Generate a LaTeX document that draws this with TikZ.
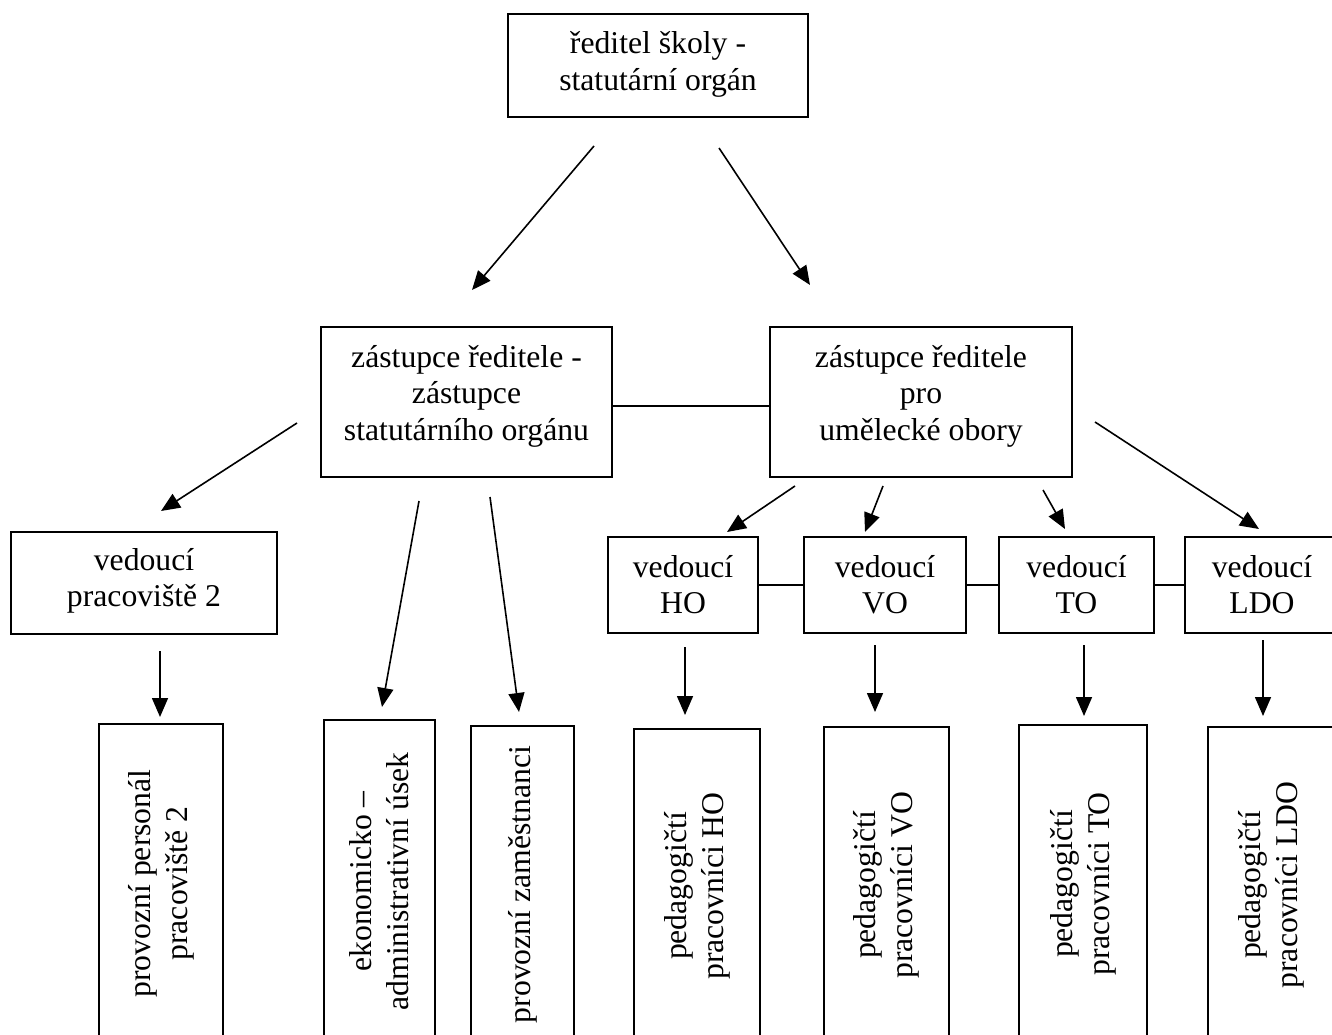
\documentclass[tikz,border=0pt]{standalone}
\usepackage{fontspec}
\setmainfont{Liberation Serif}
\usetikzlibrary{arrows.meta}
\newcommand\bt[4][40pt]{\parbox[c][#3][t]{#2}{\centering\rule{0pt}{#1}#4}}
\begin{document}
\begin{tikzpicture}[x=1pt,y=-1pt,
  box/.style={draw,line width=1.8pt,inner sep=0pt,font=\fontsize{31.7pt}{36.8pt}\selectfont},
  vbox/.style={box,rotate=90,align=center},
  arr/.style={line width=1.6pt,-{Triangle[length=19pt,width=16pt]}},
  link/.style={line width=1.6pt}]
\path[use as bounding box, clip] (0,0) rectangle (1332,1035);
\fill[white] (0,0) rectangle (1332,1035);

% horizontal boxes
\node[box] (top) at (658,65.5) {\bt{300pt}{103pt}{ředitel školy -\\statutární orgán}};
\node[box] (zr1) at (466.5,402) {\bt{291pt}{150pt}{zástupce ředitele -\\zástupce\\statutárního orgánu}};
\node[box] (zr2) at (921,402) {\bt{302pt}{150pt}{zástupce ředitele\\pro\\umělecké obory}};
\node[box] (vp2) at (144,583) {\bt[38pt]{266pt}{102pt}{vedoucí\\pracoviště 2}};
\node[box] (ho) at (683,585) {\bt{150pt}{96pt}{vedoucí\\HO}};
\node[box] (vo) at (885,585) {\bt{162pt}{96pt}{vedoucí\\VO}};
\node[box] (to) at (1076.5,585) {\bt{155pt}{96pt}{vedoucí\\TO}};
\node[box] (ldo) at (1262,585) {\bt{154pt}{96pt}{vedoucí\\LDO}};

% vertical boxes
\node[vbox,minimum width=319pt,minimum height=124pt] (pp) at (161,883.5) {provozní personál\\pracoviště 2};
\node[vbox,minimum width=323pt,minimum height=111pt] (ek) at (379.5,881.5) {ekonomicko –\\administrativní úsek};
\node[vbox,minimum width=317pt,minimum height=103pt] (pz) at (522.5,884.5) {provozní zaměstnanci};
\node[vbox,minimum width=314pt,minimum height=126pt] (pho) at (697,886) {pedagogičtí\\pracovníci HO};
\node[vbox,minimum width=316pt,minimum height=125pt] (pvo) at (886.5,885) {pedagogičtí\\pracovníci VO};
\node[vbox,minimum width=318pt,minimum height=128pt] (pto) at (1083,884) {pedagogičtí\\pracovníci TO};
\node[vbox,minimum width=316pt,minimum height=126pt] (pldo) at (1271,885) {pedagogičtí\\pracovníci LDO};

% plain links
\draw[link] ([yshift=-4pt]zr1.east) -- ([yshift=-4pt]zr2.west);
\draw[link] (ho.east) -- (vo.west);
\draw[link] (vo.east) -- (to.west);
\draw[link] (to.east) -- (ldo.west);

% arrow end points
\coordinate (a1s) at (594,146);  \coordinate (a1e) at (472,290);
\coordinate (a2s) at (719,148);  \coordinate (a2e) at (810,285);
\coordinate (a3s) at (297,423);  \coordinate (a3e) at (161,511);
\coordinate (a4s) at (419,501);  \coordinate (a4e) at (382,707);
\coordinate (a5s) at (490,497);  \coordinate (a5e) at (519,712);
\coordinate (a6s) at (795,486);  \coordinate (a6e) at (727,532);
\coordinate (a7s) at (883,486);  \coordinate (a7e) at (865,532);
\coordinate (a8s) at (1043,490); \coordinate (a8e) at (1065,529);
\coordinate (a9s) at (1095,422); \coordinate (a9e) at (1259,529);
\coordinate (b1s) at (160,651);  \coordinate (b1e) at (160,717);
\coordinate (b2s) at (685,647);  \coordinate (b2e) at (685,715);
\coordinate (b3s) at (875,645);  \coordinate (b3e) at (875,712);
\coordinate (b4s) at (1084,645); \coordinate (b4e) at (1084,716);
\coordinate (b5s) at (1263,640); \coordinate (b5e) at (1263,716);

\foreach \a in {a1,a2,a3,a4,a5,a6,a7,a8,a9,b1,b2,b3,b4,b5}
  \draw[arr] (\a s) -- (\a e);
\end{tikzpicture}
\end{document}
